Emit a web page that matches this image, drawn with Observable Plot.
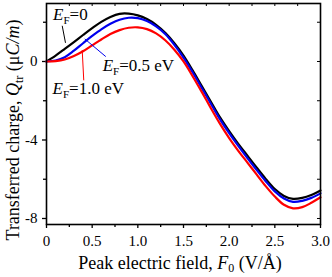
<!DOCTYPE html>
<html><head><meta charset="utf-8">
<script src="https://cdn.jsdelivr.net/npm/d3@7"></script>
<script src="https://cdn.jsdelivr.net/npm/@observablehq/plot@0.6"></script>
<style>body{margin:0;background:#fff}</style>
</head><body><div id="chart"></div>
<script>
const F = [0,0.1,0.2,0.3,0.4,0.5,0.6,0.7,0.8,0.9,1.0,1.1,1.2,1.3,1.4,1.5,1.6,1.7,1.8,1.9,2.0,2.1,2.2,2.3,2.4,2.5,2.6,2.7,2.8,2.9,3.0];
const qEF0 = [0,0.3,0.64,0.99,1.35,1.7,2.02,2.27,2.43,2.44,2.35,2.16,1.87,1.46,0.93,0.3,-0.45,-1.25,-2.05,-2.85,-3.55,-4.2,-4.8,-5.4,-5.98,-6.5,-6.85,-7.0,-6.95,-6.8,-6.57];
const qEF05 = [0,0.05,0.22,0.55,0.93,1.3,1.64,1.92,2.13,2.23,2.21,2.06,1.79,1.4,0.85,0.2,-0.55,-1.35,-2.15,-2.95,-3.65,-4.3,-4.92,-5.52,-6.1,-6.62,-6.98,-7.15,-7.1,-6.95,-6.72];
const qEF10 = [0,0.02,0.1,0.28,0.52,0.82,1.12,1.4,1.6,1.72,1.74,1.65,1.43,1.08,0.6,0.0,-0.75,-1.55,-2.38,-3.18,-3.9,-4.55,-5.15,-5.75,-6.35,-6.88,-7.3,-7.48,-7.42,-7.2,-6.92];
const seriesNames = ["0","0.5 eV","1.0 eV"];
const seriesColors = ["#000000","#0000ee","#ff0000"];
const xTicks = [0,0.5,1.0,1.5,2.0,2.5,3.0];
const xMinor = [0.25,0.75,1.25,1.75,2.25,2.75];
const yTicks = [0,-4,-8];
const yMinor = [2,-2,-6];
// annotation anchors (data coordinates)
const labelF = [0.077,0.62,0.072];
const labelQ = [2.08,-0.52,-1.68];
const leaderF1 = [0.172,0.419,0.391], leaderQ1 = [1.82,1.15,0.58];
const leaderF2 = [0.208,0.649,0.408], leaderQ2 = [0.95,0.25,-0.96];

const allQ = [qEF0,qEF05,qEF10];
const rows = [];
allQ.forEach((arr,s)=>arr.forEach((q,i)=>rows.push({F:F[i],Q:q,s})));
const leaders = seriesNames.map((n,i)=>({x1:leaderF1[i],y1:leaderQ1[i],x2:leaderF2[i],y2:leaderQ2[i],s:i}));

const W=332,H=277,mT=3,mB=53,mL=46,mR=12;
const ff = "Liberation Serif, Times New Roman, serif";
const chart = Plot.plot({
  width:W,height:H,marginTop:mT,marginBottom:mB,marginLeft:mL,marginRight:mR,
  style:{fontFamily:ff,fontSize:"15px",color:"#000",background:"#fff"},
  x:{domain:[0,3]},
  y:{domain:[-8.306,2.955]},
  marks:[
    Plot.axisX({ticks:xTicks,tickFormat:d=>d===0?"0":d.toFixed(1),tickSize:4,tickPadding:7,label:null,fontSize:15,strokeWidth:1.3}),
    Plot.axisX({ticks:xMinor,tickFormat:()=>"",tickSize:3,label:null,strokeWidth:1.3}),
    Plot.axisY({ticks:yTicks,tickFormat:d=>String(d),tickSize:4,tickPadding:5,label:null,fontSize:15,strokeWidth:1.3}),
    Plot.axisY({ticks:yMinor,tickFormat:()=>"",tickSize:3,label:null,strokeWidth:1.3}),
    Plot.tickX(xTicks.concat(xMinor),{x:d=>d,insetBottom:H-mT-mB-3,stroke:"#000",strokeWidth:1}),
    Plot.tickY(yTicks.concat(yMinor),{y:d=>d,insetLeft:W-mL-mR-3,stroke:"#000",strokeWidth:1}),
    Plot.line(rows,{x:"F",y:"Q",z:"s",stroke:d=>seriesColors[d.s],strokeWidth:2.2,curve:"catmull-rom"}),
    Plot.link(leaders,{x1:"x1",y1:"y1",x2:"x2",y2:"y2",stroke:d=>seriesColors[d.s],strokeWidth:1}),
    Plot.frame({stroke:"#000",strokeWidth:1.6})
  ]
});
document.getElementById("chart").appendChild(chart);
const svg = d3.select(chart);
const sx = chart.scale("x").apply, sy = chart.scale("y").apply;
// series labels
seriesNames.forEach((n,i)=>{
  const t = svg.append("text").attr("x",sx(labelF[i])).attr("y",sy(labelQ[i]))
    .attr("text-anchor","start").attr("font-family",ff).attr("font-size",17).attr("fill","#000");
  t.append("tspan").attr("font-style","italic").text("E");
  t.append("tspan").attr("font-size",11).attr("dy",4).text("F");
  t.append("tspan").attr("dy",-4).text("=" + n);
});
// x title
const xt = svg.append("text").attr("x",180).attr("y",H-8).attr("text-anchor","middle")
  .attr("font-family",ff).attr("font-size",18).attr("fill","#000");
xt.append("tspan").text("Peak electric field, ");
xt.append("tspan").attr("font-style","italic").text("F");
xt.append("tspan").attr("font-size",12).attr("dy",3).text("0");
xt.append("tspan").attr("dy",-3).text(" (V/Å)");
// y title
const yt = svg.append("text").attr("transform",`translate(19,130) rotate(-90)`).attr("text-anchor","middle")
  .attr("font-family",ff).attr("font-size",18).attr("fill","#000");
yt.append("tspan").text("Transferred charge, ");
yt.append("tspan").attr("font-style","italic").text("Q");
yt.append("tspan").attr("font-size",12).attr("dy",4).text("tr");
yt.append("tspan").attr("dy",-4).text(" (μ");
yt.append("tspan").attr("font-style","italic").text("C/m");
yt.append("tspan").text(")");
</script></body></html>
